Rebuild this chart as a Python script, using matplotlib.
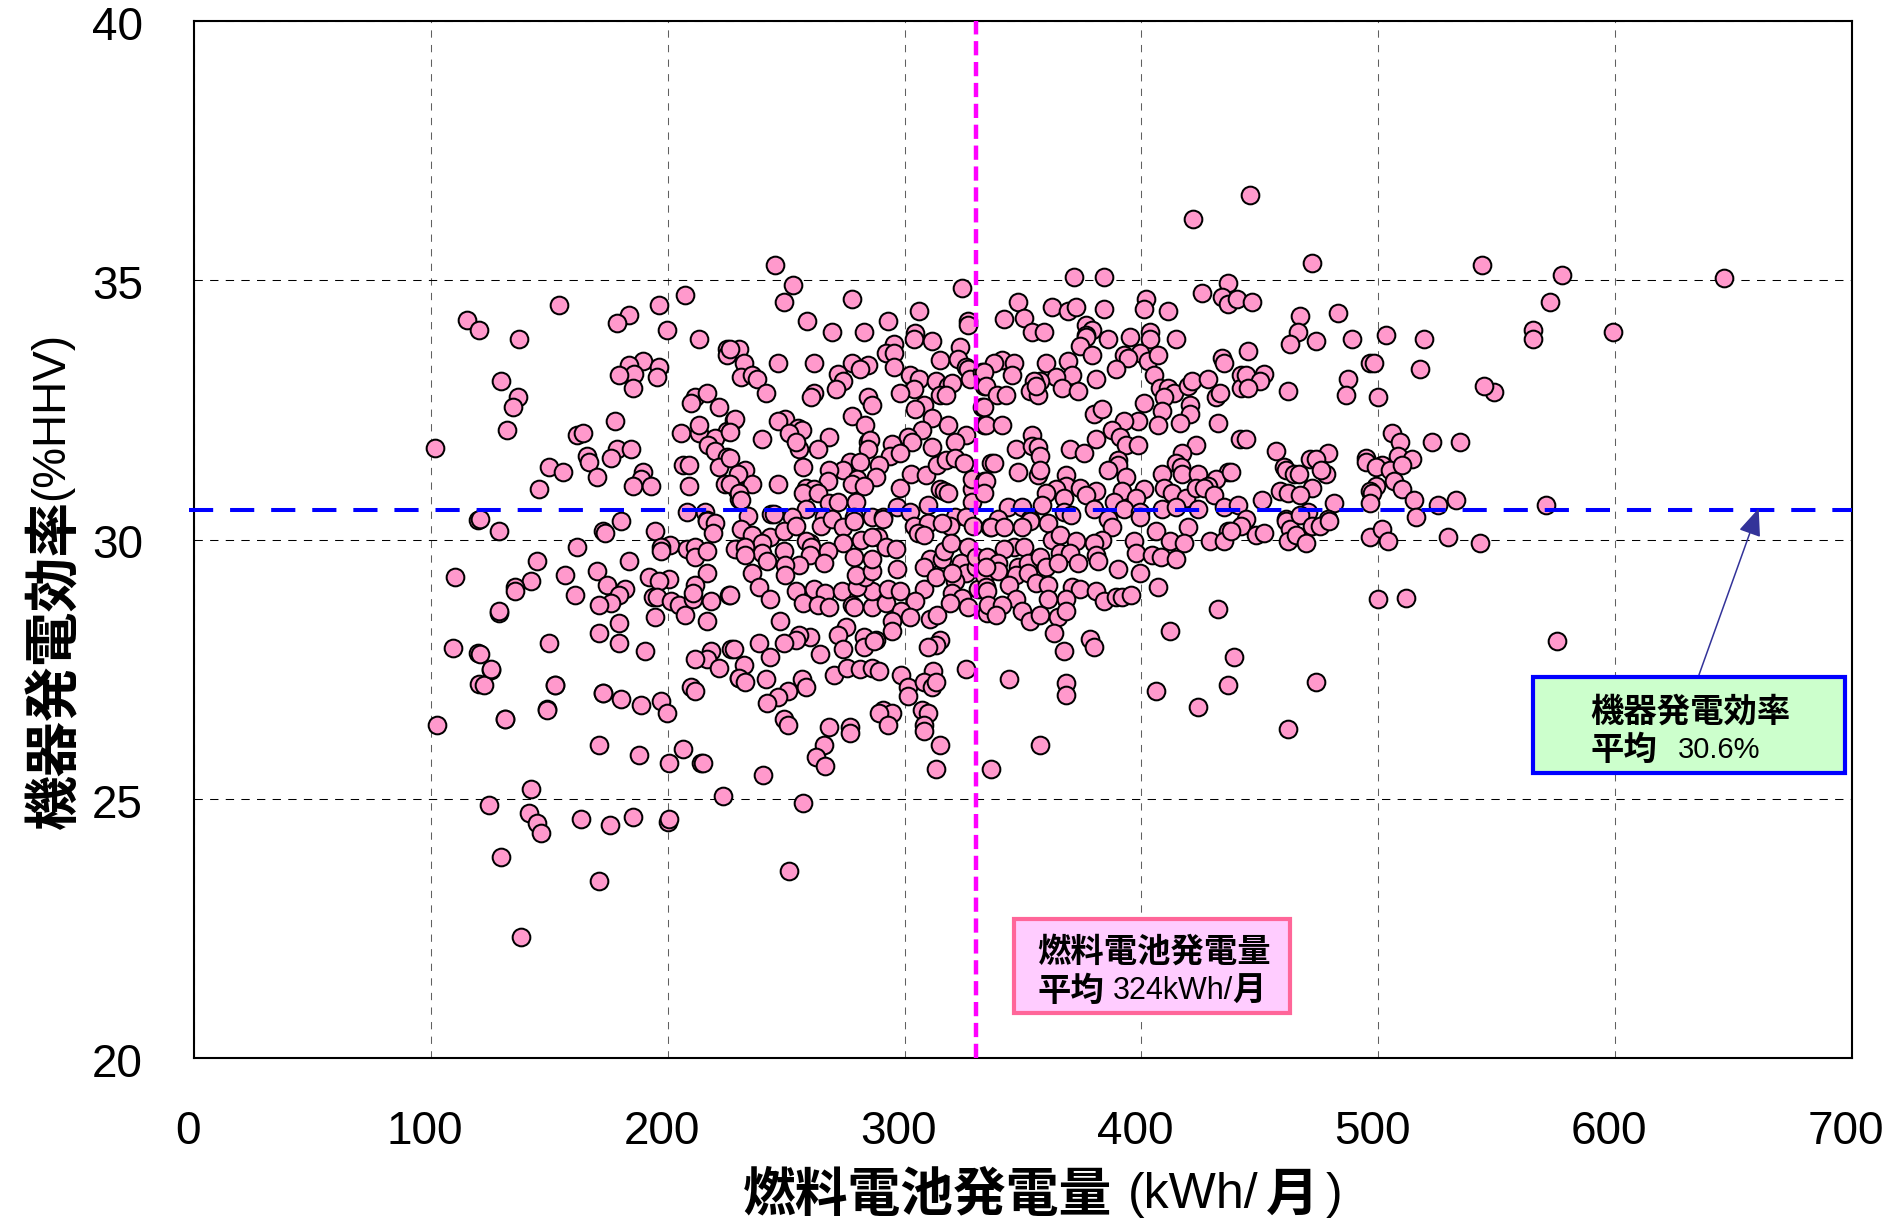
import matplotlib
matplotlib.use('Agg')
import matplotlib.pyplot as plt
from matplotlib.patches import Rectangle

# (kWh per month, efficiency %HHV), grouped by area of the plot
sparse_left = [(101.9,31.77),(102.7,26.42),(115.4,34.24),(120.5,34.04),(119.7,30.38),(110.3,29.28),(109.5,27.91),
    (119.7,27.81),(125.6,27.49),(120.5,27.22),(122.5,27.19),(128.9,28.58),(131.4,26.54),(149,26.73),(152.6,27.19),
    (172.7,27.03),(142.4,25.18),(124.6,24.87),(141.6,24.72),(144.9,24.54),(146.7,24.33),(163.5,24.6),(175.5,24.49),
    (185.4,24.64),(200,24.56),(200.7,24.6),(129.7,23.87),(171.2,23.41),(251.4,23.6),(138,22.33),(240.4,25.45),
    (223.4,25.06),(257.3,24.91)]

sparse_right = [(446,36.65),(421.6,36.19),(577.6,35.1),(646.1,35.05),(572.3,34.59),(565.2,34.05),(565.2,33.87),
    (599.3,34.0),(570.8,30.66),(575.4,28.04),(549,32.85)]

upper_a = [(154.2,34.52),(137.3,33.86),(129.7,33.05),(136.6,32.75),(134.7,32.55),(132.2,32.12),(207.4,34.71),
    (196.4,34.52),(183.7,34.33),(178.7,34.17),(199.8,34.05),(213.3,33.86),(225.1,33.67),(225.1,33.55),(189.7,33.44),
    (183.7,33.36),(196.4,33.32),(195.6,33.13),(185.7,33.19),(179.4,33.17),(185.4,32.93),(211.6,32.75),(216.7,32.82),
    (209.8,32.63),(221.8,32.55),(177.8,32.28),(161.6,32.01),(164.3,32.05),(205.6,32.05),(213.3,32.06),(213.3,32.2),
    (225.1,32.09),(220.1,31.95),(227.8,32.3),(217.2,31.83),(220.1,31.7),(225.1,31.6),(165.9,31.62),(166.8,31.5),
    (178.7,31.74),(176.1,31.58),(184.6,31.74),(149.9,31.39),(155.9,31.31),(170.2,31.2),(145.7,30.97),(189.7,31.31),
    (188.8,31.17),(185.4,31.04),(193.0,31.04),(206.5,31.43),(209.1,31.43),(209.1,31.04),(221.8,31.39),(224.3,31.08),
    (230.2,31.28),(229.4,30.95),(230.2,30.79),(208.2,30.54),(215.8,30.54),(216.7,30.37)]

lower_a = [(128.8,30.16),(120.8,30.39),(180.4,30.35),(172.8,30.16),(173.6,30.12),(194.7,30.16),(200.8,29.9),(197.3,29.85),
    (197.3,29.77),(161.8,29.85),(144.9,29.58),(183.7,29.58),(208.2,29.81),(211.6,29.85),(211.6,29.66),(216.7,29.77),
    (216.7,30.35),(220.1,30.31),(219.2,30.12),(229.4,29.81),(170.2,29.39),(156.7,29.31),(142.3,29.19),(135.6,29.08),
    (135.6,29.0),(128.8,28.62),(160.9,28.92),(174.4,29.12),(182.0,29.04),(179.5,28.92),(176.1,28.77),(171.1,28.73),
    (192.2,29.27),(200.6,29.23),(216.7,29.35),(211.6,29.12),(196.4,29.19),(193.9,28.89),(195.6,28.89),(201.5,28.81),
    (204.9,28.73),(207.4,28.54),(210.8,28.85),(210.8,28.96),(218.4,28.81),(226,28.92),(194.7,28.5),(216.7,28.42),
    (179.5,28.38),(171.1,28.19),(179.5,28.0),(150,28.0),(190.5,27.84),(226.8,27.88),(218.4,27.84),(216.7,27.69),
    (211.6,27.69),(221.8,27.53),(229.9,27.32),(120.8,27.8),(125.4,27.5),(152.5,27.19),(149.1,26.72),(172.8,27.03),
    (180.4,26.92),(188.8,26.8),(197.3,26.88),(199.8,26.65),(209.9,27.15),(211.6,27.07),(131.4,26.53),(171.1,26.03),
    (188,25.84),(206.5,25.95),(200.6,25.68),(214.2,25.68),(215,25.68)]

upper_b = [(245.5,35.29),(253.1,34.9),(248.9,34.59),(324.1,34.86),(277.6,34.63),(306.3,34.4),(259,34.21),(269.2,34.01),
    (282.7,34.01),(292.8,34.21),(326.6,34.21),(326.6,34.14),(304.6,33.98),(303.8,33.86),(311.4,33.82),(295.4,33.78),
    (323.2,33.71),(292,33.59),(295.5,33.59),(314.8,33.47),(322.4,33.49),(295.4,33.32),(230.3,33.67),(226.5,33.67),
    (232,33.4),(231.1,33.13),(235.4,33.17),(237.9,33.09),(246.4,33.4),(261.6,33.4),(241.3,32.82),(277.6,33.4),
    (284.4,33.36),(281,33.28),(271.7,33.2),(274.2,33.05),(270.9,32.9),(261.6,32.82),(260.7,32.74),(284.4,32.74),
    (286.1,32.59),(302.1,33.17),(306.3,33.09),(303.8,32.9),(297.9,32.82),(313.1,33.05),(318.2,32.97),(319.9,33.01),
    (314.8,32.78),(317.3,32.78),(325.8,33.32),(326.6,33.28),(327.5,33.09),(332.5,33.24),(333.4,32.97),(308,32.59),
    (304.4,32.51),(311.4,32.35),(332.5,32.55),(318.2,32.2),(333.4,32.2),(277.6,32.39),(283.5,32.2),(307.2,32.12),
    (301.3,31.97),(303,31.89),(325.8,32.01),(321.5,31.89),(311.4,31.78),(294.5,31.85),(284.4,31.89),(285.6,31.92),
    (284.4,31.74),(293.7,31.62),(297.9,31.66),(289.4,31.43),(276.8,31.5),(281,31.5),(268.3,31.97),(263.3,31.74),
    (255.6,31.74),(249.7,32.32),(246.4,32.28),(254.8,32.16),(256.5,32.12),(251.4,32.05),(239.6,31.93),(228.2,32.32),
    (226.5,32.08),(254,31.89),(226.5,31.58),(257.3,31.39),(274.2,31.35),(268.3,31.35),(287.8,31.2),(280.1,31.16),
    (277.6,31.08),(267.5,31.12),(282.7,31.04),(232.8,31.35),(235.4,31.08),(229.5,31.27),(246.4,31.08),(226.5,31.08),
    (230.3,30.89),(231.1,30.77),(258.2,31.0),(261.6,30.97),(257.3,30.89),(263.3,30.89),(268.3,30.7),(271.7,30.73),
    (279.3,30.73),(297.9,31.0),(302.9,31.27),(308.9,31.24),(313.9,31.43),(317.3,31.54),(321.5,31.58),(324.9,31.47),
    (336.3,31.47),(314.8,30.97),(316.5,30.93),(318.2,30.89),(328.3,30.97),(328.3,31.16),(333.4,31.12),(328.3,30.73),
    (309.7,30.66),(297,30.62),(302.1,30.54),(258.2,30.58),(243.8,30.5),(244.7,30.5),(233.7,30.46),(252.3,30.43),
    (265.8,30.43),(278.5,30.43),(286.1,30.43),(291.1,30.43),(321.5,30.43),(325.8,30.43)]

lower_b = [(231.1,30.2),(235.4,30.08),(243,30.04),(248.9,30.16),(239.6,29.93),(254,30.27),(264.9,30.27),(269.2,30.39),
    (274.2,30.24),(278.5,30.35),(274.2,29.93),(228.6,29.81),(232.8,29.85),(239.6,29.73),(232.8,29.7),(242.1,29.58),
    (248.9,29.77),(259.9,29.93),(258.2,29.97),(260.7,29.85),(267.5,29.77),(259.9,29.7),(265.8,29.54),(255.6,29.5),
    (249.7,29.5),(249.7,29.31),(235.4,29.35),(238.7,29.08),(243,28.85),(226.5,28.92),(247.2,28.42),(254,29),
    (261.6,29.04),(266.6,28.96),(273.4,29),(257.3,28.77),(263.3,28.73),(268.3,28.69),(277.6,28.73),(278.5,28.69),
    (286.1,28.69),(292,28.77),(286.1,29),(280.1,29.08),(283.5,29.27),(279.3,29.31),(286.1,29.39),(278.5,29.66),
    (286.1,29.62),(281.8,30.0),(288.6,30.04),(286.1,30.04),(292,29.85),(296.2,29.81),(297,29.43),(292.8,29.04),
    (297.9,29),(291.1,30.39),(303.8,30.27),(309.7,30.31),(305.5,30.12),(308,30.08),(319,30.27),(315.6,30.31),
    (329.1,30.27),(308,29.04),(304.6,28.81),(298.7,28.62),(294.5,28.42),(294.5,28.23),(302.1,28.5),(310.6,28.46),
    (313.5,28.54),(275.1,28.31),(271.7,28.15),(274.2,27.88),(282.7,28.11),(282.7,27.92),(287.8,28.07),(286.9,28.04),
    (259.9,28.11),(255.6,28.15),(254,28.07),(248.9,28),(238.7,28),(243,27.73),(264.1,27.8),(227.8,27.88),(232,27.57),
    (230.3,27.32),(232.8,27.26),(241.3,27.3),(256.5,27.3),(258.2,27.15),(250.6,27.07),(246.4,26.96),(242.1,26.84),
    (270,27.38),(275.9,27.53),(281,27.5),(286.1,27.53),(289.4,27.46),(298.7,27.38),(301.3,27.15),(301.3,26.99),
    (312.2,27.46),(308,27.26),(311.4,27.15),(313.1,27.26),(325.8,27.5),(314.8,28.07),(313.1,27.96),(309.7,27.92),
    (291.1,26.72),(294.5,26.65),(289.4,26.65),(292.8,26.42),(307.2,26.72),(309.7,26.65),(308,26.42),(308,26.3),
    (248.9,26.53),(250.6,26.42),(268.3,26.38),(276.8,26.38),(276.8,26.26),(265.8,26.03),(314.8,26.03),(262.4,25.8),
    (266.6,25.64),(313.1,25.57),(310.6,29.62),(315.6,29.62),(316.5,29.77),(319.4,29.93),(326.6,29.85),(308,29.46),
    (313.1,29.27),(323.7,29.54),(325.8,29.35),(321.5,29.19),(319.9,29.35),(333.4,29.08),(330,29.46),(335,29.35),
    (319.9,28.96),(324.1,28.88),(319,28.77),(326.6,28.69),(330.8,29.04),(335,28.58),(333.4,29.31),(335.9,30.24),
    (330,29.66),(335,29.66)]

upper_c = [(371.4,35.06),(384.1,35.06),(436.4,34.94),(425.5,34.75),(433.9,34.67),(436.4,34.55),(440.5,34.63),(401.8,34.63),
    (401,34.44),(411.1,34.4),(347.7,34.59),(341.8,34.25),(350.3,34.28),(353.6,34.01),(358.7,34.01),(362.1,34.48),
    (368.8,34.4),(372.2,34.48),(384.1,34.44),(376.5,34.13),(379,34.05),(376.5,33.94),(376.5,33.9),(385.7,33.86),
    (373.9,33.74),(395,33.9),(403.5,34.01),(403.5,33.86),(414.5,33.86),(399.3,33.59),(392.5,33.55),(394.2,33.51),
    (379,33.55),(368.8,33.44),(359.6,33.4),(389.1,33.28),(402.6,33.44),(406.9,33.55),(433.9,33.51),(434.7,33.4),
    (405.2,33.17),(370.5,33.17),(380.7,33.09),(363.8,33.13),(366.3,32.93),(373.1,32.86),(357,33.05),(354.5,33.05),
    (352.8,32.86),(356.2,32.78),(355.3,32.97),(341,33.47),(337.6,33.4),(346,33.4),(345.2,33.17),(333.4,33.24),
    (334.2,32.97),(339.1,32.78),(342.7,32.78),(333.4,32.55),(334.2,32.2),(341,32.2),(407.7,32.93),(411.1,32.93),
    (413.6,32.82),(409.4,32.74),(419.5,32.97),(421.2,33.05),(428,33.09),(431.4,32.74),(433.1,32.82),(441.9,33.17),
    (441.9,32.93),(401,32.63),(408.6,32.47),(420.4,32.59),(420.4,32.43),(416.2,32.24),(432.2,32.24),(406.9,32.2),
    (398.4,32.28),(392.5,32.28),(379.8,32.43),(383.2,32.51),(387.4,32.12),(380.7,31.93),(390.8,31.97),(393.3,31.82),
    (398.4,31.82),(422.9,31.82),(417,31.66),(441.5,31.93),(353.6,32.01),(346.9,31.74),(353.6,31.81),(356.2,31.78),
    (357,31.62),(369.7,31.74),(375.6,31.66),(337.6,31.47),(347.7,31.31),(356.2,31.24),(357.2,31.34),(390,31.54),
    (390,31.43),(385.7,31.35),(414.5,31.47),(416.6,31.39),(436.4,31.31),(408.6,31.27),(417,31.27),(423.8,31.27),
    (431.4,31.16),(428,31.04),(334.2,31.12),(333.4,30.89),(368,31.24),(368,31.04),(393.3,31.2),(373.9,31),(363.8,30.97),
    (359.6,30.89),(367.2,30.81),(380.7,30.93),(376.5,30.85),(391.7,30.93),(401,30.97),(397.6,30.81),(409.4,31),
    (412.8,30.89),(418.7,30.81),(422.9,31),(426.3,31),(430.5,30.85),(343.5,30.62),(349.4,30.62),(357.9,30.66),
    (367.2,30.54),(379.8,30.58),(388.3,30.73),(392.5,30.58),(399.3,30.54),(408.6,30.58),(414.5,30.62),(423.8,30.58),
    (434.7,30.62),(440.7,30.66),(339.3,30.4),(352.8,30.39),(385.7,30.39)]

lower_c = [(336.7,30.24),(352.8,30.35),(360.4,30.31),(349.4,30.24),(341.8,30.24),(370.1,30.47),(387.4,30.24),(399.3,30.43),
    (406,30.16),(419.5,30.24),(411.9,29.97),(417.9,29.93),(428.8,29.97),(436.4,30.16),(434.7,29.97),(362.1,30),
    (365.5,30.08),(372.2,29.97),(383.2,30),(379.8,29.93),(396.7,29.97),(346,29.85),(341.8,29.81),(350.4,29.85),
    (397.6,29.73),(404.3,29.7),(408.1,29.66),(414.5,29.62),(365.5,29.73),(369.7,29.73),(373.1,29.54),(380.7,29.7),
    (381.5,29.58),(339.3,29.54),(339.3,29.39),(347.7,29.46),(352,29.54),(357,29.66),(359.6,29.46),(364.6,29.54),
    (334.2,29.46),(346.9,29.31),(352,29.35),(355.3,29.16),(344.3,29.12),(334.2,29.08),(335,29),(360.4,29.12),
    (390,29.43),(399.3,29.35),(406.9,29.08),(370.5,29.08),(373.9,29.04),(368,28.85),(360.4,28.85),(380.7,29),
    (384.1,28.81),(389.1,28.89),(391.7,28.89),(395.5,28.92),(346.9,28.85),(335.1,28.73),(341,28.73),(338.4,28.54),
    (349.4,28.62),(352.8,28.42),(357,28.54),(364.6,28.5),(368,28.62),(362.9,28.19),(378.1,28.08),(379.8,27.92),
    (367.2,27.84),(432.2,28.65),(411.9,28.23),(439,27.73),(436.4,27.19),(406,27.07),(423.8,26.76),(344.3,27.3),
    (368,27.23),(368,27),(357,26.03),(336.7,25.57)]

upper_d = [(471.9,35.33),(543.7,35.29),(446.6,34.59),(482.9,34.36),(466.8,34.32),(466,34.01),(462.6,33.78),(473.6,33.82),
    (488.8,33.86),(503.2,33.94),(519.2,33.86),(444.9,33.63),(451.6,33.2),(444,33.17),(449.9,33.05),(444.9,32.93),
    (461.8,32.86),(496.4,33.4),(498.1,33.4),(517.5,33.28),(487.1,33.09),(486.3,32.78),(499.8,32.74),(544.6,32.97),
    (444,31.93),(456.7,31.7),(505.7,32.05),(509.1,31.89),(522.6,31.89),(534.4,31.89),(478.7,31.66),(471.1,31.55),
    (473.6,31.55),(437.7,31.31),(460.1,31.39),(460.9,31.35),(464.3,31.27),(466.6,31.27),(477.8,31.27),(475.7,31.35),
    (494.7,31.58),(494.7,31.5),(508.2,31.62),(514.2,31.55),(501.5,31.43),(498.9,31.39),(504.9,31.35),(509.9,31.43),
    (506.6,31.12),(509.9,30.97),(498.9,31.04),(496.4,30.93),(497.3,30.89),(515,30.77),(458.4,30.93),(461.8,30.89),
    (471.9,31),(466.8,30.85),(450.8,30.77),(481.2,30.7),(496.4,30.7),(525.1,30.66),(532.7,30.77),(470.2,30.54),
    (515.8,30.43),(460.9,30.39),(478.7,30.39)]

lower_d = [(444,30.39),(441.9,30.27),(448.3,30.08),(451.6,30.12),(437.7,30.16),(460.9,30.35),(462.6,30.2),(466.8,30.47),
    (471.9,30.27),(475.3,30.27),(479.1,30.35),(461.8,29.97),(465.2,30.08),(469.4,29.93),(496.4,30.04),(501.5,30.2),
    (504,29.97),(529.4,30.04),(542.9,29.93),(499.8,28.85),(511.6,28.88),(473.6,27.26),(461.8,26.34)]

x_ticks = [0, 100, 200, 300, 400, 500, 600, 700]
y_ticks = [20, 25, 30, 35, 40]
mean_line_eff = 30.57
mean_line_kwh = 330   # where the line sits in the picture; the box says 324

W, H = 1890, 1222
LATIN = 'Liberation Sans'
CJK = 'Noto Sans CJK JP'
plt.rcParams['font.family'] = [LATIN, CJK, 'DejaVu Sans']

fig = plt.figure(figsize=(W / 100, H / 100), dpi=100)
ax = fig.add_axes([194 / W, 1 - 1058 / H, (1852 - 194) / W, (1058 - 21) / H])

points = (sparse_left + sparse_right + upper_a + lower_a + upper_b + lower_b
          + upper_c + lower_c + upper_d + lower_d)
ax.scatter([p[0] for p in points], [p[1] for p in points], s=162, c='#FF99CC',
           edgecolors='black', linewidths=1.45, zorder=3)

ax.set_xlim(0, 700)
ax.set_ylim(20, 40)
ax.set_xticks(x_ticks)
ax.set_yticks(y_ticks)
ax.tick_params(length=0, labelbottom=False, labelleft=False)
ax.grid(axis='x', color='#606060', lw=0.75, linestyle=(0, (7, 7)))
ax.grid(axis='y', color='black', lw=0.75, linestyle=(0, (8, 7)))
ax.set_axisbelow(True)
for s in ax.spines.values():
    s.set_linewidth(1.5)

for v in x_ticks:
    ax.annotate(str(v), (v, 20), xytext=(-4.3, -53.5), textcoords='offset points',
                ha='center', va='center', fontsize=33, family=LATIN)
for v in y_ticks:
    ax.annotate(str(v), (0, v), xytext=(-55, -5), textcoords='offset points',
                ha='center', va='center', fontsize=33, family=LATIN)

# mean lines
ax.plot([-2, 700], [mean_line_eff, mean_line_eff], color='#0000FF', lw=2.9,
        linestyle=(0, (6, 4.2)), dash_capstyle='butt', zorder=4, clip_on=False)
ax.plot([mean_line_kwh, mean_line_kwh], [20, 40], color='#FF00FF', lw=3.2,
        linestyle=(0, (3.2, 1.5)), dash_capstyle='butt', zorder=4)

ax.annotate('', xy=(660.6, 30.6), xytext=(635.4, 27.39),
            arrowprops=dict(arrowstyle='-|>,head_length=0.85,head_width=0.35', color='#333399',
                            lw=1.1, shrinkA=0, shrinkB=0, mutation_scale=20), zorder=4)


def px(x, y):
    return x / W, 1 - y / H


def box(x0, y0, x1, y1, face, edge):
    fig.add_artist(Rectangle(px(x0, y1), (x1 - x0) / W, (y1 - y0) / H, transform=fig.transFigure,
                             facecolor=face, edgecolor=edge, linewidth=3, zorder=5))


def label(x, y, s, size=24, weight='normal', family=LATIN, **kw):
    fig.text(*px(x, y), s, fontsize=size, fontweight=weight, family=family,
             ha=kw.pop('ha', 'left'), va=kw.pop('va', 'center'), zorder=6, **kw)


box(1533, 677, 1845, 773, '#CCFFCC', '#0000FF')
label(1590, 712, '機器発電効率', weight='bold', family=CJK)
label(1590, 750, '平均', weight='bold', family=CJK)
label(1678, 750, '30.6%', size=21)

box(1014, 919, 1290, 1013, '#FFCCFF', '#FF6699')
label(1037, 952, '燃料電池発電量', weight='bold', family=CJK)
label(1037, 991, '平均', weight='bold', family=CJK)
label(1113, 991, '324kWh/', size=22)
label(1232, 991, '月', weight='bold', family=CJK)

# axis titles: CJK part bold, latin part thin, placed piece by piece
label(743, 1195, '燃料電池発電量', size=38, weight='bold', family=CJK)
label(1128, 1195, '(kWh/', size=36)
label(1266, 1195, '月', size=38, weight='bold', family=CJK)
label(1326, 1195, ')', size=36)

label(55, 829, '機器発電効率', size=39.5, weight='bold', family=CJK, rotation=90, ha='center', va='bottom')
label(51, 500, '(%HHV)', size=33, rotation=90, ha='center', va='bottom')

fig.savefig('out.png', dpi=100)
